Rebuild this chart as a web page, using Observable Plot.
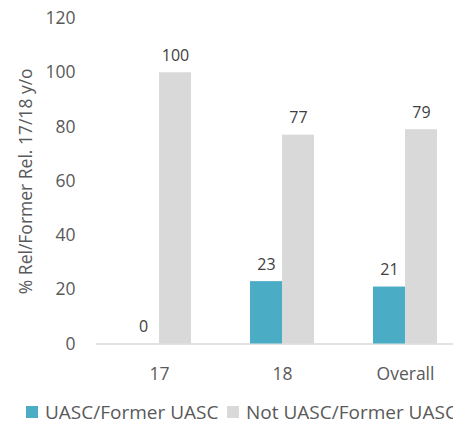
<!DOCTYPE html>
<html>
<head>
<meta charset="utf-8">
<script src="https://cdn.jsdelivr.net/npm/d3@7"></script>
<script src="https://cdn.jsdelivr.net/npm/@observablehq/plot@0.6"></script>
<style>
  html, body { margin: 0; padding: 0; overflow: hidden; background: #fff; width: 453px; height: 425px; }
  #wrap { position: relative; width: 453px; height: 425px; overflow: hidden; font-family: "Open Sans", sans-serif; color: #595959; }
  #chart { position: absolute; left: 0; top: 0; width: 467px; }
  #chart svg { max-width: none !important; }
  .leg { position: absolute; top: 399px; white-space: nowrap; font-size: 19px; line-height: 26px; display: flex; align-items: center; }
  .sw { width: 12px; height: 12px; display: inline-block; margin-right: 7px; }
</style>
</head>
<body>
<div id="wrap">
  <div id="chart"></div>
</div>
<script>
const categories = ["17", "18", "Overall"];
const seriesNames = ["UASC/Former UASC", "Not UASC/Former UASC"];
const seriesColors = ["#4BACC6", "#D9D9D9"];
const uascValues = [0, 23, 21];
const notUascValues = [100, 77, 79];
const yTicks = [0, 20, 40, 60, 80, 100, 120];
const yTitle = "% Rel/Former Rel. 17/18 y/o";

const uascData = categories.map((c, i) => ({category: c, value: uascValues[i]}));
const notData = categories.map((c, i) => ({category: c, value: notUascValues[i]}));

const chart = Plot.plot({
  width: 467,
  height: 390,
  marginLeft: 96,
  marginRight: 0,
  marginTop: 18,
  marginBottom: 46.5,
  style: {fontFamily: "Open Sans", fontSize: "17.5px", color: "#595959", background: "white"},
  x: {domain: categories, paddingInner: 0.482, paddingOuter: 0.241, label: null, tickSize: 0, tickPadding: 24},
  y: {domain: [0, 120], ticks: yTicks, tickSize: 0, tickPadding: 21, label: null},
  marks: [
    Plot.ruleY([0], {stroke: "#D9D9D9", strokeWidth: 1.5}),
    Plot.barY(uascData, {x: "category", y: "value", fill: seriesColors[0], insetRight: 32}),
    Plot.barY(notData, {x: "category", y: "value", fill: seriesColors[1], insetLeft: 32}),
    Plot.text(uascData, {x: "category", y: "value", text: d => String(d.value), dx: -16, dy: -17, fontSize: 16, fill: "#404040"}),
    Plot.text(notData, {x: "category", y: "value", text: d => String(d.value), dx: 16, dy: -17, fontSize: 16, fill: "#404040"}),
    Plot.text([yTitle], {frameAnchor: "left", textAnchor: "middle", rotate: -90, dx: -70, fontSize: 17.5, fill: "#595959"})
  ]
});
document.getElementById("chart").appendChild(chart);

const wrap = document.getElementById("wrap");
const legendX = [26, 227];
seriesNames.forEach((name, i) => {
  const d = document.createElement("div");
  d.className = "leg";
  d.style.left = legendX[i] + "px";
  const sw = document.createElement("span");
  sw.className = "sw";
  sw.style.background = seriesColors[i];
  d.appendChild(sw);
  d.appendChild(document.createTextNode(name));
  wrap.appendChild(d);
});
</script>
</body>
</html>
